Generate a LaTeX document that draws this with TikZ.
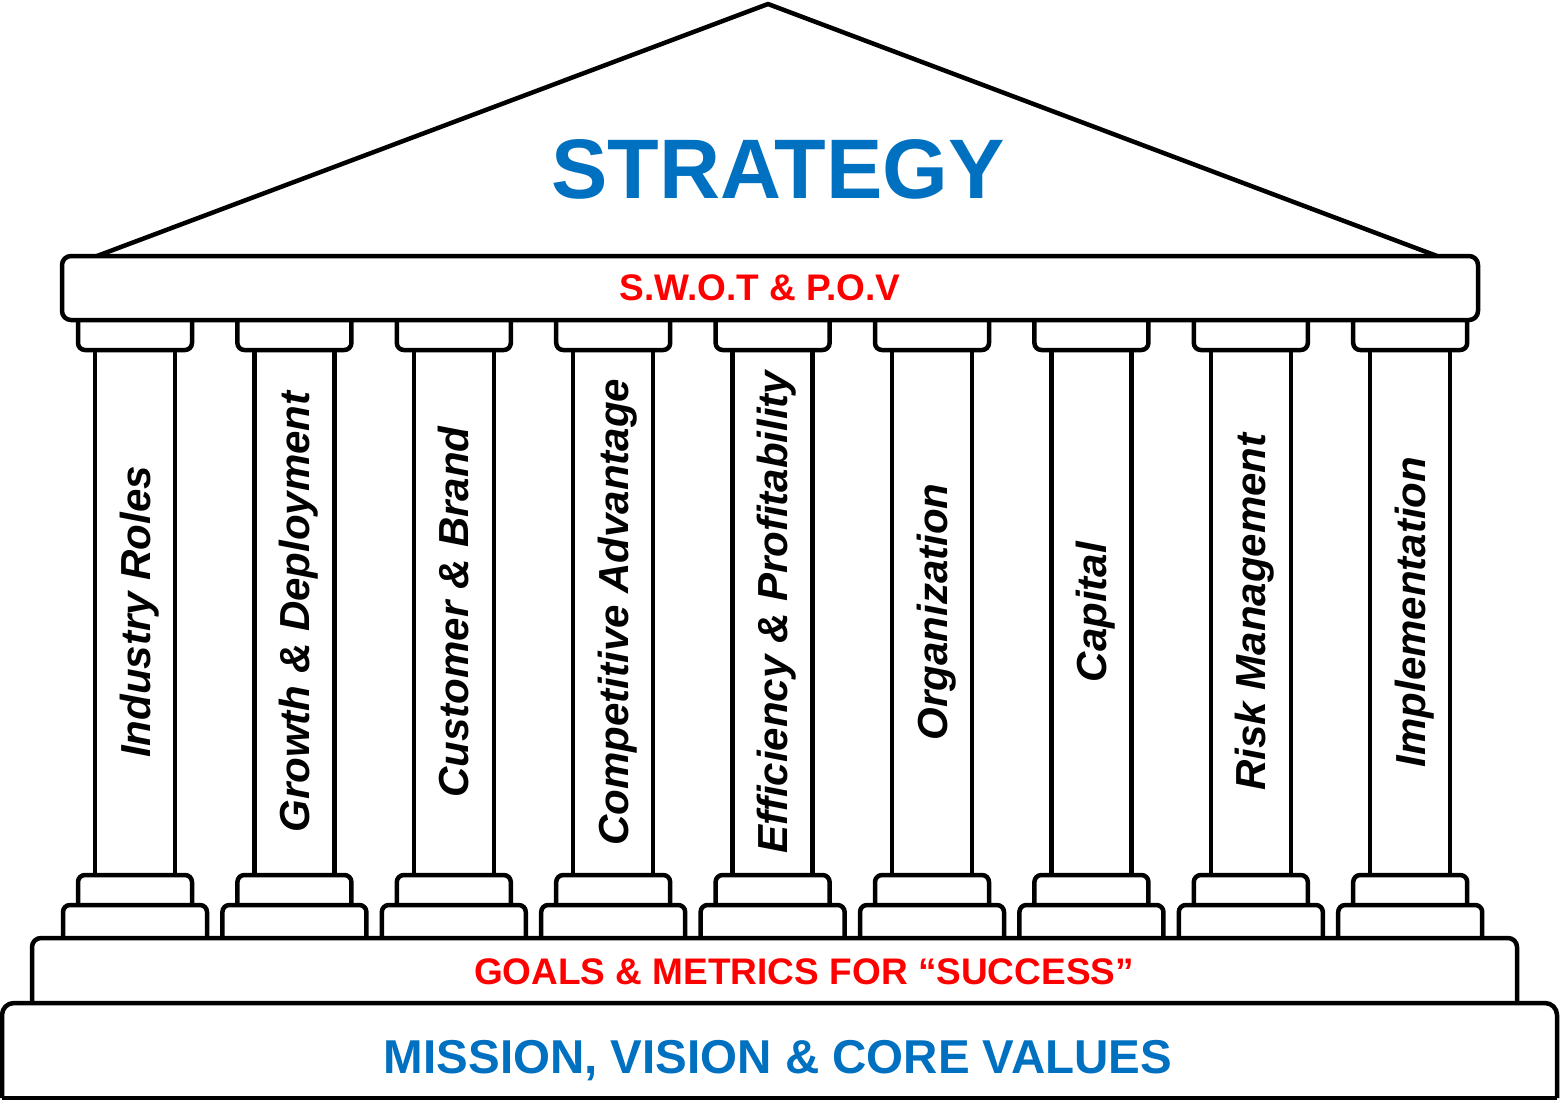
\documentclass[tikz,border=0pt]{standalone}
\usepackage{fontspec}
\setmainfont{Liberation Sans}
\definecolor{strblue}{HTML}{0070C0}
\definecolor{strred}{HTML}{FF0000}
\begin{document}
\begin{tikzpicture}[x=1pt,y=-1pt,line width=4.5pt,line join=round,
  part/.style={draw=black,rounded corners=8pt},
  coltext/.style={font=\fontsize{42}{42}\selectfont\bfseries\itshape,rotate=90,anchor=base,inner sep=0pt},
  bigtitle/.style={font=\fontsize{84.5}{84.5}\selectfont\bfseries,text=strblue,anchor=base,inner sep=0pt},
  redlabel/.style={font=\fontsize{37}{37}\selectfont\bfseries,text=strred,anchor=base,inner sep=0pt},
  bluelabel/.style={font=\fontsize{47.5}{47.5}\selectfont\bfseries,text=strblue,anchor=base,inner sep=0pt}]
\useasboundingbox (0,0) rectangle (1560,1101);
\fill[white] (0,0) rectangle (1560,1101);
% roof
\coordinate (apex) at (768,4);
\coordinate (roofL) at (97,256);
\coordinate (roofR) at (1437,256);
\draw (roofL) -- (apex) -- (roofR);
% entablature
\draw[part,rounded corners=9pt] (62,256) rectangle (1478,320);
% columns
\foreach \t [count=\i from 0] in {Industry Roles,Growth \& Deployment,Customer \& Brand,Competitive Advantage,Efficiency \& Profitability,Organization,Capital,Risk Management,Implementation}{
  \pgfmathsetmacro{\cx}{135+159.4*\i}
  \draw[part,rounded corners=7pt] (\cx-57,320) -- (\cx-57,350) -- (\cx+57,350) -- (\cx+57,320);
  \draw (\cx-40,350) -- (\cx-40,875);
  \draw (\cx+40,350) -- (\cx+40,875);
  \draw[part,rounded corners=7pt] (\cx-57,905) -- (\cx-57,875) -- (\cx+57,875) -- (\cx+57,905);
  \draw[part,rounded corners=7pt] (\cx-72,938) -- (\cx-72,905) -- (\cx+72,905) -- (\cx+72,938);
  \node[coltext] (col\i) at (\cx+15,612) {\t};
}
% steps
\draw[part,rounded corners=9pt] (32,1003) -- (32,938) -- (1517,938) -- (1517,1003);
\draw[part,rounded corners=12pt] (2,1098) -- (2,1003) -- (1557,1003) -- (1557,1098);
\draw (2,1098) -- (1557,1098);
% texts
\node[bigtitle] (strategy) at (778,198) {STRATEGY};
\node[redlabel] (swot) at (760,300) {S.W.O.T \& P.O.V};
\node[redlabel] (goals) at (804,984) {GOALS \& METRICS FOR “SUCCESS”};
\node[bluelabel] (mission) at (778,1073) {MISSION, VISION \& CORE VALUES};
\end{tikzpicture}
\end{document}
